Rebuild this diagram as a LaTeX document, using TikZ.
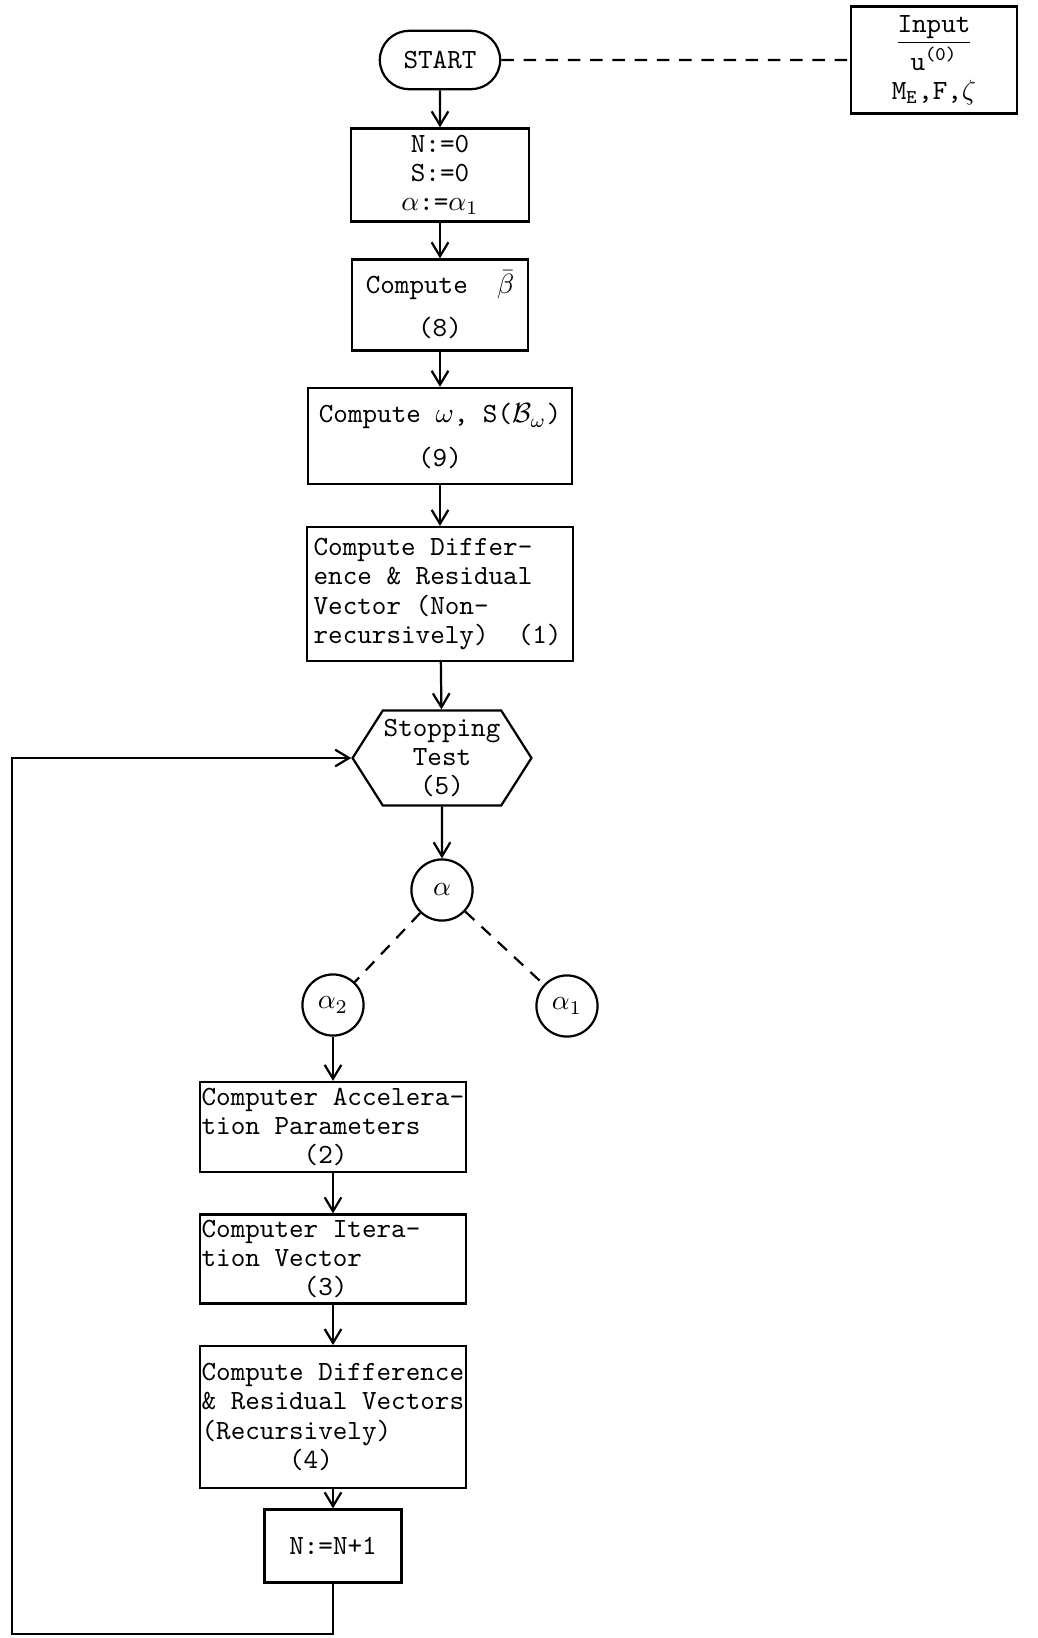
\documentclass[tikz,border=0pt]{standalone}
\usepackage{amsmath,amssymb}
\usetikzlibrary{positioning, arrows.meta, shapes.misc, shapes.symbols}

\begin{document}
\begin{tikzpicture}[
			x=0.36pt, y=-0.36pt,
			font=\ttfamily\fontsize{10}{10.5}\selectfont,
			proc/.style={rectangle, draw, thick, inner xsep=1pt, inner ysep=2pt, align=left,
				execute at begin node={\spaceskip=0pt\xspaceskip=0pt}},
			term/.style={rounded rectangle, draw, thick, minimum width=50pt, minimum height=21pt},
			hexa/.style={signal, signal to=east and west, signal pointer angle=115, draw, thick,
				minimum width=64.4pt, minimum height=34.2pt, inner sep=0pt, align=center},
			sel/.style={circle, draw, thick, minimum size=22pt, inner sep=0pt},
			arrow/.style={->, >={Straight Barb[length=5pt, width=6pt]}, thick},
			dashline/.style={thick, dash pattern=on 4.5pt off 3.5pt}
			]
			
			\useasboundingbox (0,0) rectangle (1038,1638);
			
			% Start and input
			\node[term] (start) at (440,60) {START};
			\node[proc, align=center, minimum width=60pt, minimum height=38.5pt] (input) at (934,60)
			{\underline{Input}\\u\textsuperscript{(0)}\\M\textsubscript{E},F,$\zeta$};
			
			% Main chain
			\node[proc, align=center, minimum width=64pt, minimum height=33.5pt] (init) at (440,175)
			{N:=0\\S:=0\\$\alpha$:=$\alpha_1$};
			\node[proc, align=center, minimum width=63.4pt, minimum height=32.8pt] (beta) at (440,305)
			{Compute\ \ $\bar{\beta}$\\[5pt](8)};
			\node[proc, align=center, minimum width=95pt, minimum height=34.6pt] (omega) at (440,436)
			{Compute $\omega$, S($\mathcal{B}_\omega$)\\[5pt](9)};
			\node[proc, text width=91pt, inner xsep=2.4pt, minimum height=48.2pt] (diff) at (440,594)
			{Compute Differ-\\ence \& Residual\\Vector (Non-\\recursively)\ \ (1)};
			\node[hexa] (stop) at (442,758) {Stopping\\Test\\(5)};
			
			% Choice of alpha
			\node[sel] (alpha) at (442,890) {$\alpha$};
			\node[sel] (alpha2) at (333,1005) {$\alpha_2$};
			\node[sel] (alpha1) at (567,1006) {$\alpha_1$};
			
			% Iteration steps
			\node[proc, text width=94.6pt, inner xsep=0.5pt, minimum height=32.4pt] (accel) at (333,1127)
			{Computer Accelera-\\tion Parameters\\\phantom{0000000}(2)};
			\node[proc, text width=94.6pt, inner xsep=0.5pt, minimum height=31.3pt] (iter) at (333,1259)
			{Computer Itera-\\tion Vector\\\phantom{0000000}(3)};
			\node[proc, text width=94.6pt, inner xsep=0.5pt, minimum height=51pt] (recur) at (333,1417)
			{Compute Difference\\\& Residual Vectors\\(Recursively)\\\phantom{000000}(4)};
			\node[proc, align=center, minimum width=49.3pt, minimum height=26.3pt] (incr) at (333,1546)
			{N:=N+1};
			
			% Loop corners
			\coordinate (loopbr) at (333,1634);
			\coordinate (loopbl) at (12,1634);
			
			% Connectors
			\draw[dashline] (start) -- (input);
			\draw[arrow] (start) -- (init);
			\draw[arrow] (init) -- (beta);
			\draw[arrow] (beta) -- (omega);
			\draw[arrow] (omega) -- (diff);
			\draw[arrow] (diff) -- (stop);
			\draw[arrow] (stop) -- (alpha);
			\draw[dashline] (alpha) -- (alpha2);
			\draw[dashline] (alpha) -- (alpha1);
			\draw[arrow] (alpha2) -- (accel);
			\draw[arrow] (accel) -- (iter);
			\draw[arrow] (iter) -- (recur);
			\draw[arrow] (recur) -- (incr);
			\draw[arrow] (incr) -- (loopbr) -- (loopbl) |- (stop.west);
			
		\end{tikzpicture}
\end{document}
